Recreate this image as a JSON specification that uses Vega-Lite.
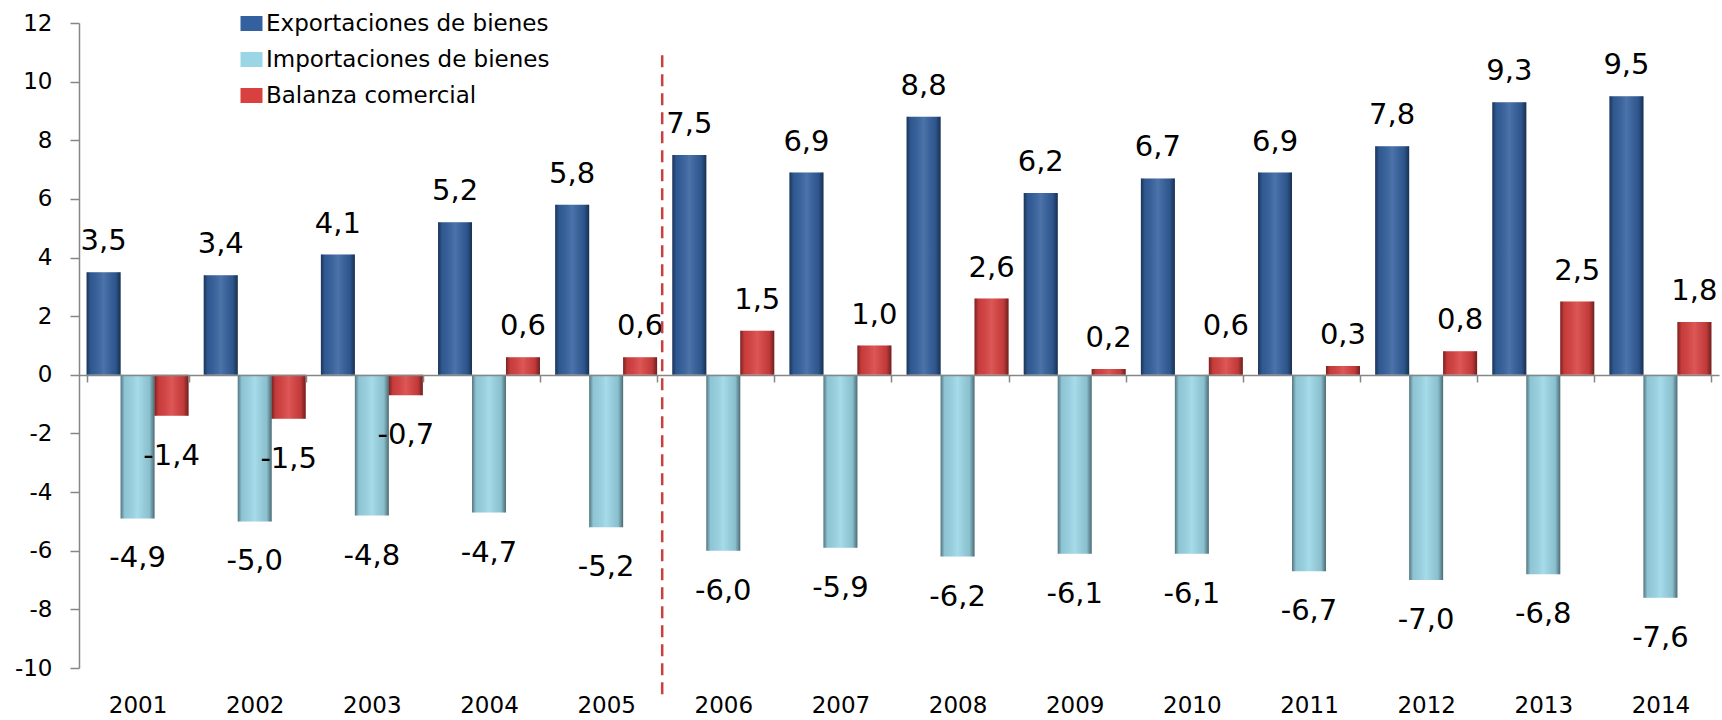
{
  "$schema": "https://vega.github.io/schema/vega-lite/v6.json",
  "width": 1640,
  "height": 645,
  "autosize": {"type": "none"},
  "padding": {"left": 79, "top": 23, "right": 3, "bottom": 52},
  "background": "white",
  "config": {
    "view": {"stroke": null},
    "font": "DejaVu Sans",
    "locale": {"number": {"decimal": ",", "thousands": ".", "grouping": [3], "currency": ["", " €"], "minus": "-"}}
  },
  "data": {"values": [
    {"year": "2001", "series": "Exportaciones de bienes", "value": 3.5},
    {"year": "2002", "series": "Exportaciones de bienes", "value": 3.4},
    {"year": "2003", "series": "Exportaciones de bienes", "value": 4.1},
    {"year": "2004", "series": "Exportaciones de bienes", "value": 5.2},
    {"year": "2005", "series": "Exportaciones de bienes", "value": 5.8},
    {"year": "2006", "series": "Exportaciones de bienes", "value": 7.5},
    {"year": "2007", "series": "Exportaciones de bienes", "value": 6.9},
    {"year": "2008", "series": "Exportaciones de bienes", "value": 8.8},
    {"year": "2009", "series": "Exportaciones de bienes", "value": 6.2},
    {"year": "2010", "series": "Exportaciones de bienes", "value": 6.7},
    {"year": "2011", "series": "Exportaciones de bienes", "value": 6.9},
    {"year": "2012", "series": "Exportaciones de bienes", "value": 7.8},
    {"year": "2013", "series": "Exportaciones de bienes", "value": 9.3},
    {"year": "2014", "series": "Exportaciones de bienes", "value": 9.5},
    {"year": "2001", "series": "Importaciones de bienes", "value": -4.9},
    {"year": "2002", "series": "Importaciones de bienes", "value": -5.0},
    {"year": "2003", "series": "Importaciones de bienes", "value": -4.8},
    {"year": "2004", "series": "Importaciones de bienes", "value": -4.7},
    {"year": "2005", "series": "Importaciones de bienes", "value": -5.2},
    {"year": "2006", "series": "Importaciones de bienes", "value": -6.0},
    {"year": "2007", "series": "Importaciones de bienes", "value": -5.9},
    {"year": "2008", "series": "Importaciones de bienes", "value": -6.2},
    {"year": "2009", "series": "Importaciones de bienes", "value": -6.1},
    {"year": "2010", "series": "Importaciones de bienes", "value": -6.1},
    {"year": "2011", "series": "Importaciones de bienes", "value": -6.7},
    {"year": "2012", "series": "Importaciones de bienes", "value": -7.0},
    {"year": "2013", "series": "Importaciones de bienes", "value": -6.8},
    {"year": "2014", "series": "Importaciones de bienes", "value": -7.6},
    {"year": "2001", "series": "Balanza comercial", "value": -1.4},
    {"year": "2002", "series": "Balanza comercial", "value": -1.5},
    {"year": "2003", "series": "Balanza comercial", "value": -0.7},
    {"year": "2004", "series": "Balanza comercial", "value": 0.6},
    {"year": "2005", "series": "Balanza comercial", "value": 0.6},
    {"year": "2006", "series": "Balanza comercial", "value": 1.5},
    {"year": "2007", "series": "Balanza comercial", "value": 1.0},
    {"year": "2008", "series": "Balanza comercial", "value": 2.6},
    {"year": "2009", "series": "Balanza comercial", "value": 0.2},
    {"year": "2010", "series": "Balanza comercial", "value": 0.6},
    {"year": "2011", "series": "Balanza comercial", "value": 0.3},
    {"year": "2012", "series": "Balanza comercial", "value": 0.8},
    {"year": "2013", "series": "Balanza comercial", "value": 2.5},
    {"year": "2014", "series": "Balanza comercial", "value": 1.8}
  ]},
  "encoding": {
    "x": {"field": "year", "type": "nominal", "sort": null,
      "scale": {"paddingInner": 0.13, "paddingOuter": 0.065},
      "axis": {"title": null, "orient": "bottom", "offset": -293, "domainColor": "#868686", "domainWidth": 1.5,
        "tickColor": "#868686", "tickWidth": 1.5, "tickSize": 7, "tickBand": "extent",
        "labelFontSize": 23, "labelFont": "DejaVu Sans", "labelColor": "#000000", "labelPadding": 312, "labelAngle": 0, "zindex": 1}},
    "y": {"field": "value", "type": "quantitative",
      "scale": {"domain": [-10, 12], "nice": false},
      "axis": {"title": null, "values": [-10, -8, -6, -4, -2, 0, 2, 4, 6, 8, 10, 12], "format": "d", "grid": false,
        "domainColor": "#868686", "domainWidth": 1.5, "tickColor": "#868686", "tickWidth": 1.5, "tickSize": 9,
        "labelFontSize": 23, "labelFont": "DejaVu Sans", "labelColor": "#000000", "labelPadding": 18}}
  },
  "layer": [
    {
      "mark": {"type": "bar"},
      "encoding": {
        "xOffset": {"field": "series", "type": "nominal",
          "sort": ["Exportaciones de bienes", "Importaciones de bienes", "Balanza comercial"],
          "scale": {"paddingInner": 0, "paddingOuter": 0}},
        "color": {"field": "series", "type": "nominal",
          "sort": ["Exportaciones de bienes", "Importaciones de bienes", "Balanza comercial"],
          "scale": {"domain": ["Exportaciones de bienes", "Importaciones de bienes", "Balanza comercial"],
            "range": ["#33609E", "#9AD6E6", "#D94040"]},
          "legend": {"orient": "none", "legendX": 161, "legendY": -11, "title": null, "direction": "vertical",
            "symbolType": "M-1,-0.68H1V0.68H-1Z", "symbolSize": 484, "symbolStrokeWidth": 0, "symbolOpacity": 1,
            "labelFontSize": 23, "labelFont": "DejaVu Sans", "labelColor": "#000000", "labelLimit": 500, "rowPadding": 12,
            "labelOffset": 3, "padding": 0}}
      }
    },
    {
      "mark": {"type": "bar", "fill": {"gradient": "linear", "x1": 0, "y1": 0, "x2": 1, "y2": 0,
        "stops": [
          {"offset": 0, "color": "rgba(0,0,0,0.45)"},
          {"offset": 0.12, "color": "rgba(0,0,0,0.08)"},
          {"offset": 0.5, "color": "rgba(255,255,255,0.12)"},
          {"offset": 0.85, "color": "rgba(0,0,0,0.1)"},
          {"offset": 1, "color": "rgba(0,0,0,0.5)"}
        ]}},
      "encoding": {
        "xOffset": {"field": "series", "type": "nominal",
          "sort": ["Exportaciones de bienes", "Importaciones de bienes", "Balanza comercial"],
          "scale": {"paddingInner": 0, "paddingOuter": 0}}
      }
    },
    {
      "transform": [{"filter": "datum.value >= 0"}],
      "mark": {"type": "text", "fontSize": 29, "font": "DejaVu Sans", "color": "#000000", "baseline": "alphabetic", "dy": -22},
      "encoding": {
        "xOffset": {"field": "series", "type": "nominal",
          "sort": ["Exportaciones de bienes", "Importaciones de bienes", "Balanza comercial"],
          "scale": {"paddingInner": 0, "paddingOuter": 0}},
        "text": {"field": "value", "type": "quantitative", "format": ".1f"}
      }
    },
    {
      "transform": [{"filter": "datum.value < 0"}],
      "mark": {"type": "text", "fontSize": 29, "font": "DejaVu Sans", "color": "#000000", "baseline": "alphabetic", "dy": 49},
      "encoding": {
        "xOffset": {"field": "series", "type": "nominal",
          "sort": ["Exportaciones de bienes", "Importaciones de bienes", "Balanza comercial"],
          "scale": {"paddingInner": 0, "paddingOuter": 0}},
        "text": {"field": "value", "type": "quantitative", "format": ".1f"}
      }
    },
    {
      "transform": [{"filter": "datum.year == '2005' && datum.series == 'Balanza comercial'"}],
      "mark": {"type": "rule", "color": "#C9403D", "strokeWidth": 2.5, "strokeDash": [12, 7]},
      "encoding": {
        "x": {"field": "year", "type": "nominal", "bandPosition": 1.05},
        "y": {"datum": 10.9, "type": "quantitative"},
        "y2": {"datum": -10.9}
      }
    }
  ]
}
